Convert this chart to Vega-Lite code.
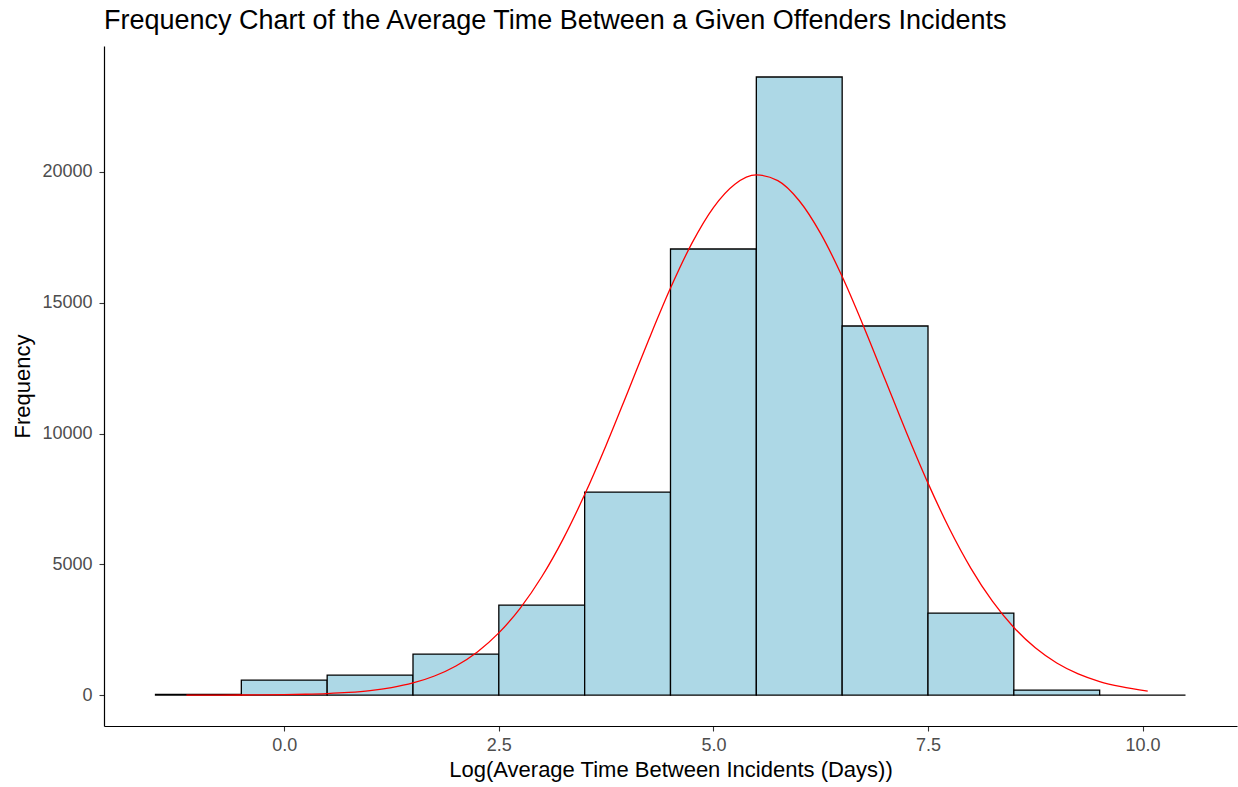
{
  "$schema": "https://vega.github.io/schema/vega-lite/v6.json",
  "autosize": "none",
  "width": 1133,
  "height": 680,
  "padding": {"left": 104, "top": 46, "right": 1, "bottom": 61},
  "background": "white",
  "config": {
    "font": "Liberation Sans",
    "view": {"stroke": null},
    "axis": {
      "grid": false,
      "domainColor": "#000000",
      "domainWidth": 1.2,
      "tickColor": "#333333",
      "tickSize": 5,
      "tickWidth": 1.1,
      "labelColor": "#4D4D4D",
      "labelFontSize": 18,
      "titleColor": "#000000",
      "titleFontSize": 22,
      "titleFontWeight": "normal"
    }
  },
  "title": {
    "text": "Frequency Chart of the Average Time Between a Given Offenders Incidents",
    "anchor": "start",
    "frame": "group",
    "fontSize": 27,
    "fontWeight": "normal",
    "color": "#000000",
    "offset": 11
  },
  "datasets": {
    "bins": [
      {"lo": -1.5, "hi": -0.5, "count": 25},
      {"lo": -0.5, "hi": 0.5, "count": 575},
      {"lo": 0.5, "hi": 1.5, "count": 765},
      {"lo": 1.5, "hi": 2.5, "count": 1568},
      {"lo": 2.5, "hi": 3.5, "count": 3440},
      {"lo": 3.5, "hi": 4.5, "count": 7760},
      {"lo": 4.5, "hi": 5.5, "count": 17055},
      {"lo": 5.5, "hi": 6.5, "count": 23630},
      {"lo": 6.5, "hi": 7.5, "count": 14110},
      {"lo": 7.5, "hi": 8.5, "count": 3135},
      {"lo": 8.5, "hi": 9.5, "count": 190},
      {"lo": 9.5, "hi": 10.5, "count": 0}
    ],
    "curve": [
      {"x": -1.14, "y": 1},
      {"x": -0.75, "y": 2},
      {"x": -0.5, "y": 4},
      {"x": -0.25, "y": 9},
      {"x": 0, "y": 17},
      {"x": 0.25, "y": 31},
      {"x": 0.5, "y": 57},
      {"x": 0.75, "y": 101},
      {"x": 1, "y": 172},
      {"x": 1.25, "y": 287},
      {"x": 1.5, "y": 464},
      {"x": 1.75, "y": 730},
      {"x": 2, "y": 1114},
      {"x": 2.25, "y": 1651},
      {"x": 2.5, "y": 2377},
      {"x": 2.75, "y": 3327},
      {"x": 3, "y": 4523},
      {"x": 3.25, "y": 5973},
      {"x": 3.5, "y": 7666},
      {"x": 3.75, "y": 9555},
      {"x": 4, "y": 11572},
      {"x": 4.25, "y": 13615},
      {"x": 4.5, "y": 15560},
      {"x": 4.75, "y": 17278},
      {"x": 5, "y": 18639},
      {"x": 5.25, "y": 19532},
      {"x": 5.5, "y": 19886},
      {"x": 5.75, "y": 19669},
      {"x": 6, "y": 18900},
      {"x": 6.25, "y": 17642},
      {"x": 6.5, "y": 16000},
      {"x": 6.75, "y": 14094},
      {"x": 7, "y": 12064},
      {"x": 7.25, "y": 10031},
      {"x": 7.5, "y": 8103},
      {"x": 7.75, "y": 6359},
      {"x": 8, "y": 4847},
      {"x": 8.25, "y": 3590},
      {"x": 8.5, "y": 2584},
      {"x": 8.75, "y": 1806},
      {"x": 9, "y": 1227},
      {"x": 9.25, "y": 810},
      {"x": 9.5, "y": 519},
      {"x": 9.75, "y": 323},
      {"x": 10.06, "y": 150}
    ]
  },
  "layer": [
    {
      "data": {"name": "bins"},
      "mark": {"type": "rect", "fill": "#ADD8E6", "stroke": "#000000", "strokeWidth": 1.3},
      "encoding": {
        "x": {
          "field": "lo",
          "type": "quantitative",
          "scale": {"domain": [-2.1, 11.1], "nice": false, "zero": false},
          "axis": {
            "values": [0, 2.5, 5, 7.5, 10],
            "format": ".1f",
            "title": "Log(Average Time Between Incidents (Days))",
            "labelPadding": 5,
            "titlePadding": 5
          }
        },
        "x2": {"field": "hi"},
        "y": {
          "field": "count",
          "type": "quantitative",
          "scale": {"domain": [-1182, 24815], "nice": false, "zero": false},
          "axis": {
            "values": [0, 5000, 10000, 15000, 20000],
            "format": "d",
            "title": "Frequency",
            "labelPadding": 7,
            "titlePadding": 7
          }
        },
        "y2": {"datum": 0}
      }
    },
    {
      "data": {"name": "curve"},
      "mark": {"type": "line", "color": "#FF0000", "strokeWidth": 1.3, "interpolate": "monotone"},
      "encoding": {
        "x": {"field": "x", "type": "quantitative"},
        "y": {"field": "y", "type": "quantitative"}
      }
    }
  ]
}
